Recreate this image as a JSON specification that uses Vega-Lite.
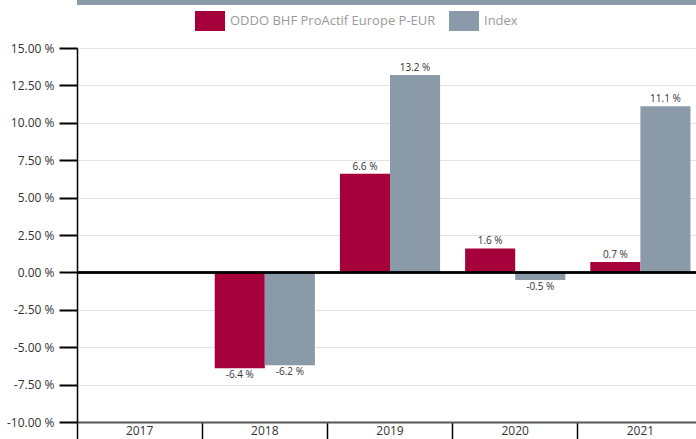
{
  "$schema": "https://vega.github.io/schema/vega-lite/v6.json",
  "width": 626,
  "height": 374,
  "autosize": {"type": "none"},
  "padding": {"left": 77, "top": 48, "right": 0, "bottom": 17},
  "background": "white",
  "config": {
    "view": {"stroke": null},
    "font": "Open Sans",
    "axis": {"labelFont": "Open Sans", "labelColor": "#333333", "labelFontSize": 12}
  },
  "datasets": {
    "perf": [
      {"year": "2018", "series": "ODDO BHF ProActif Europe P-EUR", "value": -6.4, "label": "-6.4 %"},
      {"year": "2018", "series": "Index", "value": -6.2, "label": "-6.2 %"},
      {"year": "2019", "series": "ODDO BHF ProActif Europe P-EUR", "value": 6.6, "label": "6.6 %"},
      {"year": "2019", "series": "Index", "value": 13.2, "label": "13.2 %"},
      {"year": "2020", "series": "ODDO BHF ProActif Europe P-EUR", "value": 1.6, "label": "1.6 %"},
      {"year": "2020", "series": "Index", "value": -0.5, "label": "-0.5 %"},
      {"year": "2021", "series": "ODDO BHF ProActif Europe P-EUR", "value": 0.7, "label": "0.7 %"},
      {"year": "2021", "series": "Index", "value": 11.1, "label": "11.1 %"}
    ]
  },
  "layer": [
    {
      "data": {"values": [{"top": 18.4, "bottom": 17.87}]},
      "mark": {"type": "rect", "color": "#8a9aa9", "clip": false},
      "encoding": {
        "y": {
          "field": "top", "type": "quantitative", "title": null,
          "scale": {"domain": [-10, 15], "nice": false, "zero": false},
          "axis": {
            "values": [-10, -7.5, -5, -2.5, 0, 2.5, 5, 7.5, 10, 12.5, 15],
            "labelExpr": "replace(format(datum.value, '.2f'), '\u2212', '-') + ' %'",
            "tickSize": 18, "tickColor": "#000000", "tickWidth": 2,
            "domainColor": "#000000", "domainWidth": 1.5,
            "gridColor": "#e3e3e3", "gridWidth": 1, "labelPadding": 5,
            "labelFontSize": 12
          }
        },
        "y2": {"field": "bottom"}
      }
    },
    {
      "data": {"name": "perf"},
      "encoding": {
        "x": {
          "field": "year", "type": "nominal", "title": null,
          "scale": {"domain": ["2017", "2018", "2019", "2020", "2021"], "paddingInner": 0, "paddingOuter": 0},
          "axis": {
            "bandPosition": 0, "labelAngle": 0, "labelOffset": 0, "labelAlign": "center",
            "tickSize": 20, "tickColor": "#000000", "tickWidth": 1.5,
            "labelPadding": -17, "domainColor": "#555555", "domainWidth": 2,
            "labelFontSize": 12
          }
        },
        "xOffset": {
          "field": "series", "type": "nominal",
          "sort": ["ODDO BHF ProActif Europe P-EUR", "Index"],
          "scale": {"domain": ["ODDO BHF ProActif Europe P-EUR", "Index"], "paddingInner": 0, "paddingOuter": 0.25}
        },
        "y": {
          "field": "value", "type": "quantitative", "title": null,
          "scale": {"domain": [-10, 15], "nice": false, "zero": false},
          "axis": {
            "values": [-10, -7.5, -5, -2.5, 0, 2.5, 5, 7.5, 10, 12.5, 15],
            "labelExpr": "replace(format(datum.value, '.2f'), '\u2212', '-') + ' %'",
            "tickSize": 18, "tickColor": "#000000", "tickWidth": 2,
            "domainColor": "#000000", "domainWidth": 1.5,
            "gridColor": "#e3e3e3", "gridWidth": 1, "labelPadding": 5,
            "labelFontSize": 12
          }
        }
      },
      "layer": [
        {
          "mark": {"type": "bar"},
          "encoding": {
            "color": {
              "field": "series", "type": "nominal",
              "sort": ["ODDO BHF ProActif Europe P-EUR", "Index"],
              "scale": {"domain": ["ODDO BHF ProActif Europe P-EUR", "Index"], "range": ["#a5003a", "#8a9aa9"]},
              "legend": {
                "title": null, "orient": "none", "direction": "horizontal",
                "legendX": 123, "legendY": -37,
                "symbolType": "M-1.5,-1H1.5V1H-1.5Z", "symbolSize": 400,
                "symbolStrokeWidth": 0, "symbolOpacity": 1,
                "labelFontSize": 13, "labelColor": "#9a9a9a", "labelFont": "Open Sans",
                "labelLimit": 400, "columnPadding": 13, "labelOffset": 10
              }
            }
          }
        },
        {
          "transform": [{"filter": "datum.value > 0"}],
          "mark": {"type": "text", "baseline": "bottom", "dy": -2, "fontSize": 10, "color": "#333333"},
          "encoding": {"text": {"field": "label", "type": "nominal"}}
        },
        {
          "transform": [{"filter": "datum.value < 0"}],
          "mark": {"type": "text", "baseline": "top", "dy": 2, "fontSize": 10, "color": "#333333"},
          "encoding": {"text": {"field": "label", "type": "nominal"}}
        },
        {
          "mark": {"type": "rule", "color": "#000000", "strokeWidth": 1.5},
          "encoding": {"y": {"datum": 0}, "x": null, "xOffset": null}
        }
      ]
    }
  ]
}
